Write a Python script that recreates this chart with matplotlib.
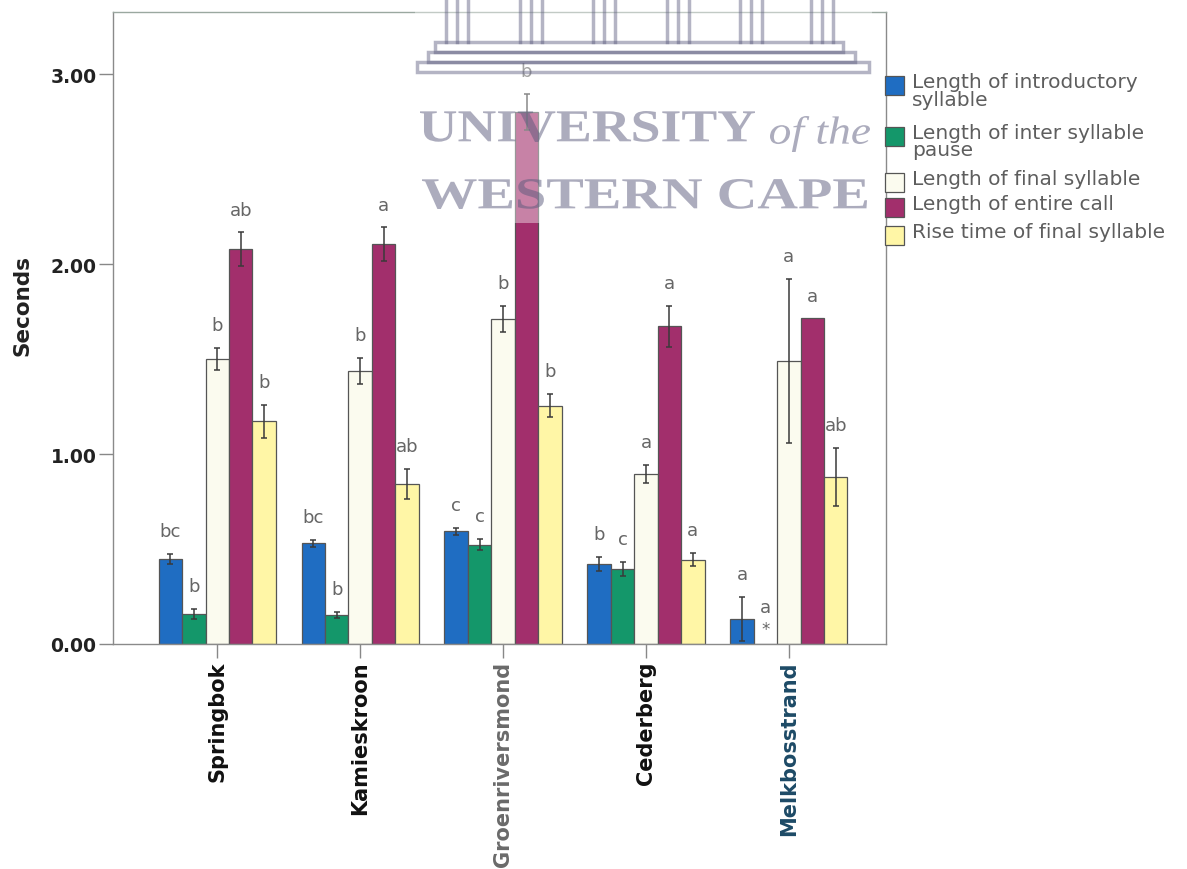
import matplotlib
matplotlib.use("Agg")
import matplotlib.pyplot as plt
import numpy as np
from matplotlib.patches import Rectangle, PathPatch
from matplotlib.textpath import TextPath
from matplotlib.font_manager import FontProperties
from matplotlib.transforms import Affine2D

# data
sites = ["Springbok", "Kamieskroon", "Groenriversmond", "Cederberg", "Melkbosstrand"]
site_colors = ["#111111", "#111111", "#6a6a6a", "#111111", "#1d4a66"]
series = ["Length of introductory\nsyllable", "Length of inter syllable\npause",
          "Length of final syllable", "Length of entire call", "Rise time of final syllable"]
bar_colors = ["#1f6dc2", "#14976a", "#fbfbef", "#a22f6c", "#fff6a6"]

intro = [0.447, 0.530, 0.593, 0.421, 0.132]
intro_err = [0.026, 0.020, 0.020, 0.035, 0.114]
pause = [0.158, 0.154, 0.523, 0.395, 0.0]
pause_err = [0.026, 0.015, 0.030, 0.035, 0.0]
final = [1.50, 1.438, 1.71, 0.895, 1.49]
final_err = [0.060, 0.070, 0.070, 0.048, 0.43]
entire = [2.079, 2.105, 2.80, 1.672, 1.714]
entire_err = [0.088, 0.088, 0.095, 0.110, 0.0]
rise = [1.172, 0.842, 1.254, 0.444, 0.881]
rise_err = [0.088, 0.079, 0.061, 0.035, 0.153]

letters = [["bc", "b", "b", "ab", "b"],
           ["bc", "b", "b", "a", "ab"],
           ["c", "c", "b", "b", "b"],
           ["b", "c", "a", "a", "a"],
           ["a", "a", "a", "a", "ab"]]

values = [intro, pause, final, entire, rise]
errors = [intro_err, pause_err, final_err, entire_err, rise_err]

W, H = 1187, 870
fig = plt.figure(figsize=(W / 100, H / 100), dpi=100)
ax = fig.add_axes([113 / W, 1 - 645 / H, (886 - 113) / W, (645 - 12.5) / H])

gx = np.arange(len(sites))
bw = 0.164
for j in range(5):
    xs = gx + (j - 2) * bw
    ax.bar(xs, values[j], width=bw, color=bar_colors[j], edgecolor="#555555",
           linewidth=0.9, zorder=2)
    err = np.array(errors[j])
    m = err > 0
    ax.errorbar(xs[m], np.array(values[j])[m], yerr=err[m], fmt="none",
                ecolor="#3a3a3a", elinewidth=1.1, capsize=2.5, capthick=1.1, zorder=3)
    for i in range(len(sites)):
        top = values[j][i] + errors[j][i]
        if values[j][i] == 0:
            ax.annotate("*", (xs[i], 0), xytext=(0, 4), textcoords="offset points",
                        ha="center", va="bottom", fontsize=12, color="#666666")
            ax.annotate(letters[i][j], (xs[i], 0), xytext=(0, 20), textcoords="offset points",
                        ha="center", va="bottom", fontsize=13, color="#666666")
        else:
            ax.annotate(letters[i][j], (xs[i], top), xytext=(0, 10), textcoords="offset points",
                        ha="center", va="bottom", fontsize=13, color="#666666")

ax.set_xlim(-0.73, 4.68)
ax.set_ylim(0, 3.33)
ax.set_yticks([0, 1, 2, 3])
ax.set_yticklabels(["0.00", "1.00", "2.00", "3.00"], fontsize=13.5, fontweight="bold", color="#222222")
ax.set_xticks(gx)
ax.set_xticklabels(sites, rotation=90, fontsize=15, fontweight="bold")
for lab, c in zip(ax.get_xticklabels(), site_colors):
    lab.set_color(c)
ax.tick_params(axis="both", length=10, width=1, color="#888888")
ax.tick_params(axis="x", pad=2)
ax.tick_params(axis="y", pad=2)
ax.set_ylabel("Seconds", fontsize=15.5, fontweight="bold", color="#222222")
ax.yaxis.set_label_coords(-0.104, 0.537)
for s in ax.spines.values():
    s.set_color("#8a8a8a")
    s.set_linewidth(1)
ax.spines["top"].set_color("#9aa8a0")


def fx(x):
    return x / W


def fy(y):
    return 1 - y / H


# legend, laid out by hand to follow the original spacing
row_tops = [77, 128, 174, 199, 227]
for lab, col, yt in zip(series, bar_colors, row_tops):
    fig.patches.append(Rectangle((fx(885), fy(yt + 19)), fx(904) - fx(885), fy(yt) - fy(yt + 19),
                                 transform=fig.transFigure, facecolor=col,
                                 edgecolor="#555555", linewidth=0.9))
    fig.text(fx(912), fy(yt - 4), lab, ha="left", va="top", fontsize=14.5,
             color="#5e5e5e", linespacing=0.9)

# watermark (University of the Western Cape logo)
wm = "#5a5a7c"
fig.patches.append(Rectangle((fx(415), fy(224)), fx(872) - fx(415), fy(0) - fy(224),
                             transform=fig.transFigure, facecolor="white", alpha=0.4,
                             edgecolor="none", zorder=5))
for cx in [457, 531, 604, 678, 751, 822]:
    for dx in [-11, 0, 11]:
        fig.lines.append(plt.Line2D([fx(cx + dx)] * 2, [fy(0), fy(43)], transform=fig.transFigure,
                                    color=wm, alpha=0.45, linewidth=2.5, zorder=6))
for x0, x1, y0, y1 in [(435, 843, 43, 53), (428, 855, 53, 63), (417, 869, 63, 73)]:
    fig.patches.append(Rectangle((fx(x0), fy(y1)), fx(x1) - fx(x0), fy(y0) - fy(y1),
                                 transform=fig.transFigure, facecolor="none", edgecolor=wm,
                                 alpha=0.45, linewidth=2.5, zorder=6))


def word(txt, x0, x1, y0, y1, style="normal", weight="bold"):
    tp = TextPath((0, 0), txt, size=1,
                  prop=FontProperties(family="Liberation Serif", style=style, weight=weight))
    bb = tp.get_extents()
    tr = Affine2D().translate(-bb.x0, -bb.y0).scale((fx(x1) - fx(x0)) / bb.width,
                                                    (fy(y0) - fy(y1)) / bb.height)
    tr = tr.translate(fx(x0), fy(y1))
    fig.patches.append(PathPatch(tr.transform_path(tp), transform=fig.transFigure,
                                 facecolor=wm, edgecolor="none", alpha=0.5, zorder=6))


word("UNIVERSITY", 420, 755, 112, 143)
word("of the", 770, 870, 117, 153, style="italic", weight="normal")
word("WESTERN CAPE", 422, 867, 180, 210)

fig.savefig("out.png", dpi=100)
